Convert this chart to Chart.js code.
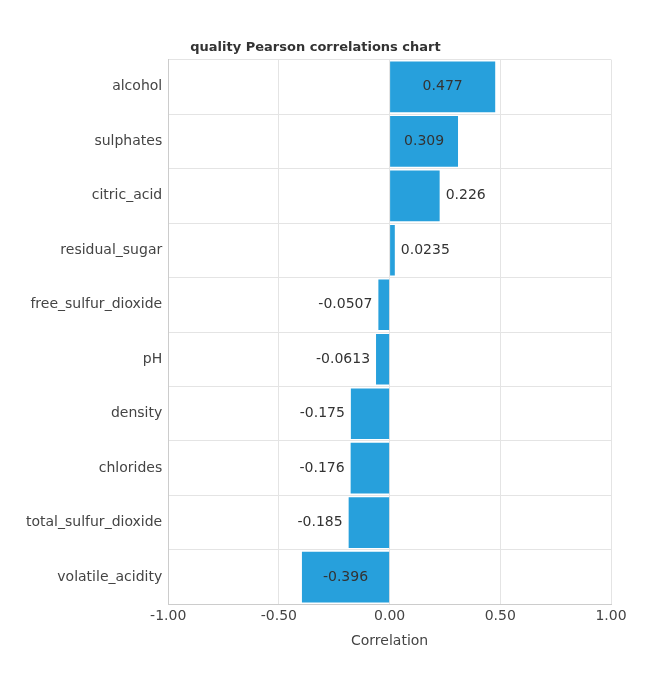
<!DOCTYPE html>
<html><head><meta charset="utf-8">
<script src="https://cdn.jsdelivr.net/npm/chart.js@4"></script>
<style>html,body{margin:0;padding:0;background:#fff}#wrap{width:671px;height:682px}</style>
</head><body><div id="wrap"><canvas id="c"></canvas></div>
<script>
const labels = ['alcohol','sulphates','citric_acid','residual_sugar','free_sulfur_dioxide','pH','density','chlorides','total_sulfur_dioxide','volatile_acidity'];
const values = [0.477,0.309,0.226,0.0235,-0.0507,-0.0613,-0.175,-0.176,-0.185,-0.396];
const valueText = ['0.477','0.309','0.226','0.0235','-0.0507','-0.0613','-0.175','-0.176','-0.185','-0.396'];
const xTicks = [-1,-0.5,0,0.5,1];

const FONT = "'DejaVu Sans', sans-serif";

const barLabels = {
  id: 'barLabels',
  afterDatasetsDraw(chart) {
    const ctx = chart.ctx;
    const meta = chart.getDatasetMeta(0);
    ctx.save();
    ctx.font = '14px ' + FONT;
    ctx.fillStyle = '#333';
    ctx.textBaseline = 'middle';
    meta.data.forEach((bar, i) => {
      const t = valueText[i];
      const w = ctx.measureText(t).width;
      const bw = Math.abs(bar.x - bar.base);
      const pos = values[i] >= 0;
      if (bw > w + 12) {
        ctx.textAlign = 'center';
        ctx.fillText(t, (bar.x + bar.base) / 2, bar.y);
      } else if (pos) {
        ctx.textAlign = 'left';
        ctx.fillText(t, bar.x + 6, bar.y);
      } else {
        ctx.textAlign = 'right';
        ctx.fillText(t, bar.x - 6, bar.y);
      }
    });
    ctx.restore();
  }
};

new Chart(document.getElementById('c'), {
  type: 'bar',
  data: {
    labels: labels,
    datasets: [{ data: values, backgroundColor: '#27a0dc', categoryPercentage: 1, barPercentage: 0.93 }]
  },
  options: {
    indexAxis: 'y',
    responsive: true,
    maintainAspectRatio: false,
    animation: false,
    layout: { padding: { top: 40, right: 60, left: 20, bottom: 28 } },
    plugins: {
      legend: { display: false },
      tooltip: { enabled: false },
      title: { display: true, text: 'quality Pearson correlations chart', color: '#333',
               font: { family: FONT, size: 13, weight: 'bold' }, padding: { top: 0, bottom: 4 } }
    },
    scales: {
      x: {
        min: -1, max: 1,
        afterBuildTicks: (ax) => { ax.ticks = xTicks.map(v => ({ value: v })); },
        ticks: { color: '#444', font: { family: FONT, size: 14 }, callback: v => v.toFixed(2), padding: 4 },
        grid: { color: '#e4e4e4', drawTicks: false },
        border: { color: '#ccc' },
        title: { display: true, text: 'Correlation', color: '#444', font: { family: FONT, size: 14 }, padding: { top: 4 } }
      },
      y: {
        ticks: { color: '#444', font: { family: FONT, size: 14 }, padding: 6 },
        grid: { color: '#e4e4e4', drawTicks: false },
        border: { color: '#ccc' }
      }
    }
  },
  plugins: [barLabels]
});
</script></body></html>
